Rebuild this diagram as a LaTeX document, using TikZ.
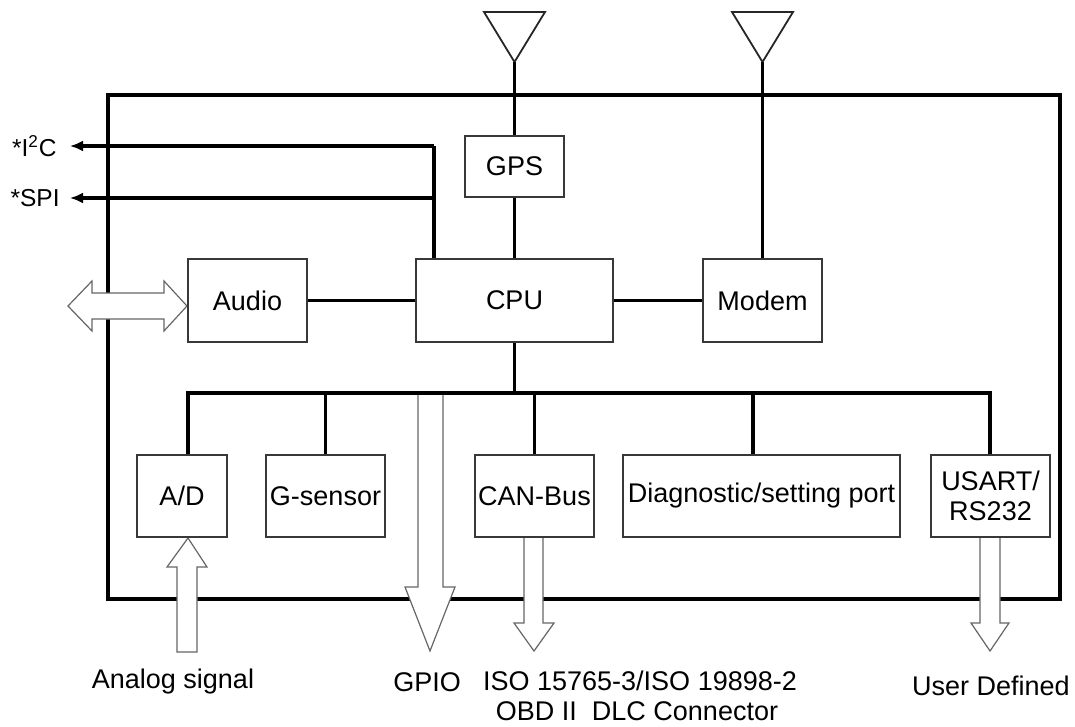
\documentclass[tikz,border=0pt]{standalone}
\usepackage{fontspec}
\setmainfont{Liberation Sans}
\usetikzlibrary{arrows.meta}
\begin{document}
\begin{tikzpicture}[x=0.5pt,y=-0.5pt,
  box/.style={draw=black!78,line width=0.75pt,fill=white,inner sep=0pt,
    font=\fontsize{13.5pt}{15pt}\selectfont,align=center},
  lbl/.style={inner sep=0pt,font=\fontsize{13.5pt}{16pt}\selectfont,align=center},
  slbl/.style={inner sep=0pt,font=\fontsize{12.25pt}{14pt}\selectfont},
  frame/.style={line width=2pt,black},
  conn/.style={line width=1.9pt,black},
  thinconn/.style={line width=1.5pt,black},
  ant/.style={line width=0.9pt,black!85},
  bigarrow/.style={draw=black!60,line width=0.6pt,fill=white},
  tip/.style={-{Latex[length=6.5pt,width=5.5pt]}}]
\useasboundingbox (0,0) rectangle (1075,727);

% outer frame
\draw[frame] (108,95) rectangle (1060,599);

% wide arrows (over the frame)
\draw[bigarrow] (68,306) -- (92,281) -- (92,293) -- (164,293) -- (164,281) -- (187,306)
  -- (164,331) -- (164,319) -- (92,319) -- (92,331) -- cycle;
\draw[bigarrow] (177,652) -- (177,567) -- (167,567) -- (188,538) -- (207,567) -- (197,567) -- (197,652) -- cycle;
\draw[bigarrow] (418,393) -- (418,587) -- (405,587) -- (430,651) -- (455,587) -- (443,587) -- (443,393);
\draw[bigarrow] (524,537) -- (524,623) -- (514,623) -- (534,651) -- (554,623) -- (543,623) -- (543,537);
\draw[bigarrow] (980,537) -- (980,623) -- (971,623) -- (990,651) -- (1009,623) -- (1000,623) -- (1000,537);

% antennas
\draw[ant] (484,12) -- (545,12) -- (514.5,62) -- cycle;
\coordinate (ant1) at (514.5,62);
\draw[ant] (732,12) -- (793,12) -- (762.5,62) -- cycle;
\coordinate (ant2) at (762.5,62);

% boxes
\node[box,minimum width=49.5pt,minimum height=30.5pt] (gps) at (514.5,166.5) {GPS};
\node[box,minimum width=98.5pt,minimum height=41.5pt] (cpu) at (514.5,300.5) {CPU};
\node[box,minimum width=59.5pt,minimum height=41.5pt] (audio) at (247.5,300.5) {Audio};
\node[box,minimum width=59.5pt,minimum height=41.5pt] (modem) at (762.5,300.5) {Modem};
\node[box,minimum width=45pt,minimum height=41pt] (ad) at (182,496) {A/D};
\node[box,minimum width=59.5pt,minimum height=41pt] (gsensor) at (325.5,496) {G-sensor};
\node[box,minimum width=59.5pt,minimum height=41pt] (can) at (534.5,496) {CAN-Bus};
\node[box,minimum width=138.5pt,minimum height=41pt] (diag) at (761.5,496) {Diagnostic/setting port};
\node[box,minimum width=59.5pt,minimum height=41pt] (usart) at (990.5,496) {USART/\\RS232};

% connectors
\draw[conn] (ant1) -- (gps.north);
\draw[thinconn] (gps.south) -- (cpu.north);
\draw[conn] (ant2) -- (modem.north);
\draw[conn] (audio.east) -- (cpu.west);
\draw[conn] (cpu.east) -- (modem.west);

% I2C / SPI
\coordinate (j1) at (434,146);
\coordinate (j2) at (434,198);
\coordinate (i2ct) at (70,146);
\coordinate (spit) at (70,198);
\draw[conn] (cpu.north -| j1) -- (j1);
\draw[conn,tip] (j1) -- (i2ct);
\draw[conn,tip] (j2) -- (spit);
\node[slbl,anchor=east] (i2c) at (57,146) {*I\textsuperscript{2}C};
\node[slbl,anchor=east] (spi) at (60,198) {*SPI};

% bus
\coordinate (bl) at (188,393);
\coordinate (br) at (990,393);
\coordinate (dg) at (753,393);
\draw[conn] (cpu.south) -- (cpu.south |- bl);
\draw[conn] (ad.north -| bl) -- (bl) -- (br) -- (usart.north -| br);
\draw[conn] (gsensor.north) -- (gsensor.north |- bl);
\draw[conn] (can.north) -- (can.north |- bl);
\draw[conn] (dg) -- (diag.north -| dg);

% bottom labels
\node[lbl] (analog) at (173,682) {Analog signal};
\node[lbl] (gpio) at (427,682) {GPIO};
\node[lbl] (iso) at (640,681) {ISO 15765-3/ISO 19898-2};
\node[lbl] (obd) at (637,711) {OBD II\ \ DLC Connector};
\node[lbl] (user) at (991,686) {User Defined};
\end{tikzpicture}
\end{document}
